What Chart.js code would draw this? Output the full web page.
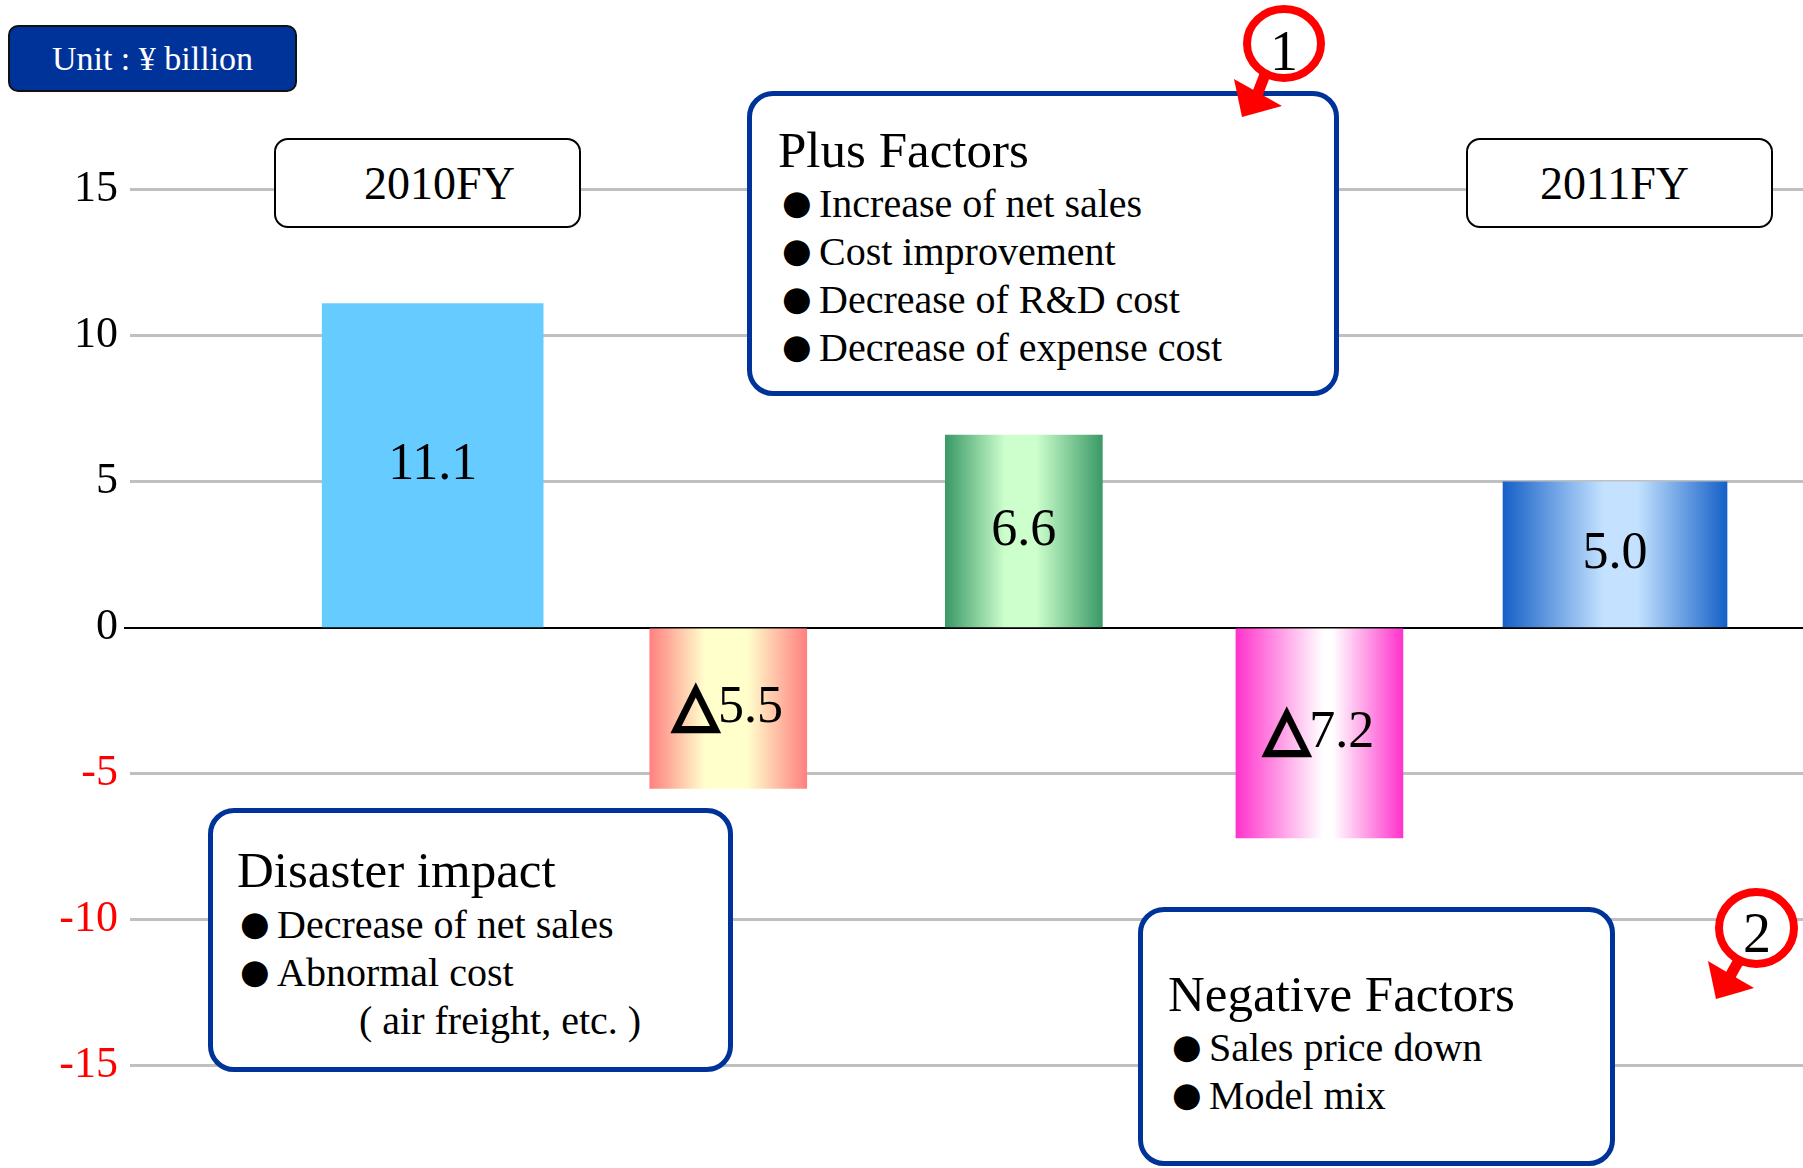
<!DOCTYPE html>
<html>
<head>
<meta charset="utf-8">
<title>Operating income 2010FY to 2011FY</title>
<script src="https://cdn.jsdelivr.net/npm/chart.js@4.4.1/dist/chart.umd.min.js"></script>
<style>
  html, body { margin: 0; padding: 0; background: #fff; }
  #stage { position: relative; width: 1803px; height: 1168px; overflow: hidden;
           font-family: "Liberation Serif", "Times New Roman", serif; color: #000; }
  #chart { position: absolute; left: 0; top: 0; }
  .box { position: absolute; box-sizing: border-box; background: #fff; }
  .unit { left: 8px; top: 25px; width: 289px; height: 67px; background: #003399;
          border: 2px solid #111; border-radius: 10px; color: #fff; font-size: 34px;
          display: flex; align-items: center; justify-content: center; }
  .year { top: 138px; width: 307px; height: 90px; border: 2px solid #000; border-radius: 14px;
          font-size: 46px; display: flex; align-items: center; justify-content: center; }
  .note { border: 5px solid #003399; border-radius: 26px; }
  .ln { position: absolute; white-space: nowrap; }
  .t { font-size: 51px; line-height: 60px; }
  .i { font-size: 40px; line-height: 48px; }
  .dot { display: inline-block; width: 37px; font-family: "DejaVu Sans", sans-serif; font-size: 34px;
         position: relative; top: -3px; }
  #marks { position: absolute; left: 0; top: 0; }
</style>
</head>
<body>
<div id="stage">
  <canvas id="chart" width="1803" height="1168"></canvas>

  <div class="box unit">Unit : ¥ billion</div>
  <div class="box year" style="left:274px; padding-left:24px;">2010FY</div>
  <div class="box year" style="left:1466px; padding-right:10px;">2011FY</div>

  <div class="box note" style="left:747px; top:91px; width:592px; height:305px;"></div>
  <div class="ln t" style="left:778px; top:120px;">Plus Factors</div>
  <div class="ln i" style="left:782px; top:180px;"><span class="dot">●</span>Increase of net sales</div>
  <div class="ln i" style="left:782px; top:228px;"><span class="dot">●</span>Cost improvement</div>
  <div class="ln i" style="left:782px; top:276px;"><span class="dot">●</span>Decrease of R&amp;D cost</div>
  <div class="ln i" style="left:782px; top:324px;"><span class="dot">●</span>Decrease of expense cost</div>

  <div class="box note" style="left:208px; top:808px; width:525px; height:264px;"></div>
  <div class="ln t" style="left:237px; top:840px;">Disaster impact</div>
  <div class="ln i" style="left:240px; top:901px;"><span class="dot">●</span>Decrease of net sales</div>
  <div class="ln i" style="left:240px; top:949px;"><span class="dot">●</span>Abnormal cost</div>
  <div class="ln i" style="left:359px; top:997px;">( air freight, etc. )</div>

  <div class="box note" style="left:1138px; top:907px; width:477px; height:259px;"></div>
  <div class="ln t" style="left:1168px; top:964px;">Negative Factors</div>
  <div class="ln i" style="left:1172px; top:1024px;"><span class="dot">●</span>Sales price down</div>
  <div class="ln i" style="left:1172px; top:1072px;"><span class="dot">●</span>Model mix</div>

  <svg id="marks" width="1803" height="1168">
    <line x1="1266" y1="72" x2="1257" y2="95" stroke="#FF0000" stroke-width="11"/>
    <polygon points="1234,79 1282,106 1242,117" fill="#FF0000"/>
    <ellipse cx="1284" cy="43.5" rx="37" ry="34.5" fill="#fff" stroke="#FF0000" stroke-width="8"/>
    <text x="1284" y="70" font-size="56" text-anchor="middle" font-family="Liberation Serif">1</text>

    <line x1="1742" y1="955" x2="1729" y2="978" stroke="#FF0000" stroke-width="11"/>
    <polygon points="1708,961 1754,988 1716,999" fill="#FF0000"/>
    <ellipse cx="1756.5" cy="928" rx="37.5" ry="36" fill="#fff" stroke="#FF0000" stroke-width="8"/>
    <text x="1757" y="952" font-size="56" text-anchor="middle" font-family="Liberation Serif">2</text>
  </svg>
</div>

<script>
// --- data ---
const categories = ['2010FY', 'Disaster impact', 'Plus Factors', 'Negative Factors', '2011FY'];
const values = [11.1, -5.5, 6.6, -7.2, 5.0];
const yTicks = [15, 10, 5, 0, -5, -10, -15];

// --- bar styling ---
const barWidths = [221, 157, 157, 167, 224];
const barFills = [
    [[0, '#66CCFF'], [1, '#66CCFF']],
    [[0, '#FF8080'], [0.35, '#FFFFCC'], [0.62, '#FFFFCC'], [1, '#FF8080']],
    [[0, '#3A9966'], [0.38, '#CCFFCC'], [0.58, '#CCFFCC'], [1, '#3A9966']],
    [[0, '#FF33CC'], [0.52, '#FFFFFF'], [0.58, '#FFFFFF'], [1, '#FF33CC']],
    [[0, '#1560C8'], [0.45, '#C4E2FF'], [0.6, '#C4E2FF'], [1, '#1560C8']]
];

// horizontal "cylinder" gradient across each bar
const barFill = (i) => (c) => {
    const stops = barFills[i];
    const xs = c.chart.scales.x;
    if (!xs || c.type !== 'data' || !c.parsed) return stops[0][1];
    const cx = xs.getPixelForValue(c.parsed.x);
    if (!Number.isFinite(cx)) return stops[0][1];
    const w = barWidths[i];
    const g = c.chart.ctx.createLinearGradient(cx - w / 2, 0, cx + w / 2, 0);
    stops.forEach(([o, col]) => g.addColorStop(o, col));
    return g;
};

// value text inside each bar, negatives written as △
const valueLabels = {
    id: 'valueLabels',
    afterDatasetsDraw(chart) {
        const ctx = chart.ctx;
        ctx.save();
        ctx.textBaseline = 'middle';
        ctx.fillStyle = '#000';
        ctx.strokeStyle = '#000';
        values.forEach((v, i) => {
            const bar = chart.getDatasetMeta(i).data[0];
            const cy = (bar.y + bar.base) / 2;
            const num = Math.abs(v).toFixed(1);
            ctx.font = '52px "Liberation Serif"';
            const nw = ctx.measureText(num).width;
            if (v < 0) {
                ctx.font = '58px "DejaVu Sans"';
                const tw = ctx.measureText('△').width;
                const x0 = bar.x - (tw + nw) / 2;
                ctx.textAlign = 'left';
                ctx.lineWidth = 4;
                ctx.fillText('△', x0, cy);
                ctx.strokeText('△', x0, cy);
                ctx.font = '52px "Liberation Serif"';
                ctx.fillText(num, x0 + tw, cy);
            } else {
                ctx.textAlign = 'center';
                ctx.fillText(num, bar.x, cy);
            }
        });
        ctx.restore();
    }
};

const chart = new Chart(document.getElementById('chart').getContext('2d'), {
    type: 'bar',
    data: {
        datasets: categories.map((name, i) => ({
            label: name,
            data: [{ x: i, y: values[i] }],
            barThickness: barWidths[i],
            backgroundColor: barFill(i),
            borderWidth: 0,
            grouped: false
        }))
    },
    options: {
        responsive: false,
        animation: false,
        devicePixelRatio: 1,
        layout: { padding: 0 },
        plugins: { legend: { display: false }, tooltip: { enabled: false } },
        scales: {
            x: { type: 'linear', offset: false, min: -1.024, max: 4.636, display: false },
            y: {
                min: -18.5,
                max: 21.5,
                afterBuildTicks: (s) => { s.ticks = yTicks.map(v => ({ value: v })); },
                afterFit: (s) => { s.width = 130; s.paddingTop = 0; s.paddingBottom = 0; },
                border: { display: false },
                grid: {
                    color: (c) => c.tick.value === 0 ? '#000' : '#C0C0C0',
                    lineWidth: (c) => c.tick.value === 0 ? 2 : 3,
                    tickLength: 6,
                    tickColor: (c) => c.tick.value === 0 ? '#000' : 'rgba(0,0,0,0)'
                },
                ticks: {
                    padding: 6,
                    color: (c) => c.tick.value < 0 ? '#FF0000' : '#000',
                    font: { family: "'Liberation Serif'", size: 44 },
                    callback: (v) => String(v)
                }
            }
        }
    },
    plugins: [valueLabels]
});
</script>
</body>
</html>
